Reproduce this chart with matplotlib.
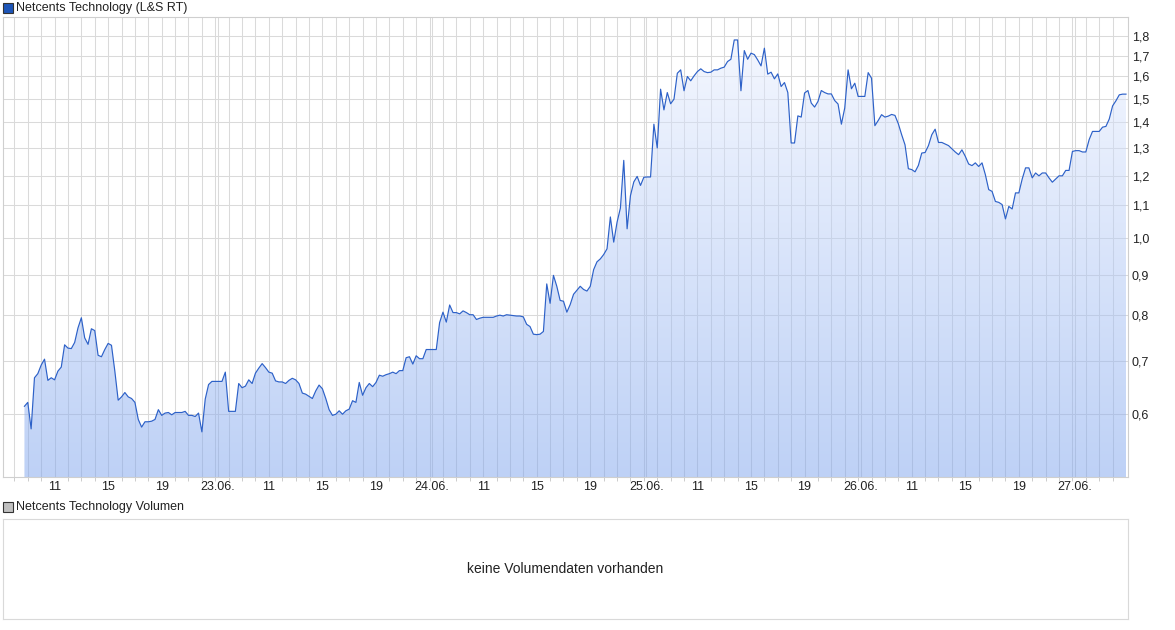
import numpy as np
import matplotlib
matplotlib.use("Agg")
import matplotlib.pyplot as plt
from matplotlib.patches import Polygon, Rectangle
from matplotlib.ticker import FixedLocator, FuncFormatter

plt.rcParams['font.family'] = ['Liberation Sans', 'DejaVu Sans']

# Kurs im 15-Minuten-Takt, erster Punkt 22.06. 08:45
# (Zeitachse ohne Nacht: je Handelstag 07:00 - 23:00 = 16 Stunden)
kurs = [
    0.614, 0.621, 0.575, 0.667, 0.675, 0.692, 0.704, 0.662, 0.667, 0.663,
    0.680, 0.688, 0.734, 0.727, 0.726, 0.739, 0.771, 0.794, 0.749, 0.735,
    0.769, 0.765, 0.712, 0.709, 0.724, 0.737, 0.733, 0.680, 0.625, 0.631,
    0.639, 0.631, 0.628, 0.621, 0.591, 0.578, 0.587, 0.587, 0.588, 0.591,
    0.608, 0.598, 0.602, 0.603, 0.599, 0.603, 0.603, 0.603, 0.605, 0.598,
    0.598, 0.596, 0.602, 0.570, 0.627, 0.654, 0.660, 0.660, 0.660, 0.660,
    0.678, 0.605, 0.605, 0.605, 0.656, 0.648, 0.651, 0.663, 0.656, 0.676,
    0.686, 0.695, 0.687, 0.678, 0.676, 0.661, 0.659, 0.659, 0.656, 0.662,
    0.666, 0.663, 0.656,
    0.638, 0.636, 0.632, 0.628, 0.642, 0.653, 0.646, 0.628, 0.608, 0.598,
    0.600, 0.606, 0.600, 0.606, 0.609, 0.624, 0.621, 0.658, 0.634, 0.648,
    0.656, 0.650, 0.658, 0.672, 0.670, 0.673, 0.675, 0.678, 0.675, 0.681,
    0.681, 0.707, 0.709, 0.694, 0.711, 0.705, 0.705, 0.724, 0.724, 0.724,
    0.724, 0.783, 0.807, 0.784, 0.824, 0.806, 0.806, 0.803, 0.810, 0.806,
    0.801, 0.801, 0.790, 0.793, 0.795, 0.795, 0.795, 0.795, 0.798, 0.800,
    0.798, 0.801, 0.800, 0.799, 0.798, 0.798, 0.796, 0.779, 0.774, 0.757,
    0.756, 0.757, 0.763, 0.876, 0.828, 0.898, 0.870, 0.835, 0.833, 0.807,
    0.825, 0.850, 0.860, 0.870,
    0.862, 0.858, 0.870, 0.913, 0.934, 0.942, 0.954, 0.970, 1.064, 0.989,
    1.048, 1.092, 1.254, 1.028, 1.132, 1.178, 1.197, 1.166, 1.194, 1.195,
    1.195, 1.393, 1.300, 1.542, 1.452, 1.527, 1.478, 1.498, 1.615, 1.631,
    1.535, 1.600, 1.580, 1.603, 1.623, 1.636, 1.623, 1.618, 1.620, 1.631,
    1.631, 1.639, 1.644, 1.671, 1.682, 1.779, 1.779, 1.535, 1.725, 1.682,
    1.712, 1.705, 1.679,
    1.650, 1.737, 1.611, 1.620, 1.589, 1.612, 1.554, 1.572, 1.527, 1.319,
    1.319, 1.427, 1.422, 1.525, 1.536, 1.481, 1.464, 1.488, 1.536, 1.527,
    1.521, 1.521, 1.492, 1.477, 1.393, 1.460, 1.631, 1.544, 1.569, 1.510,
    1.510, 1.510, 1.618, 1.592, 1.387, 1.408, 1.432, 1.422, 1.426, 1.433,
    1.429, 1.395,
    1.351, 1.312, 1.224, 1.221, 1.213, 1.236, 1.281, 1.283, 1.309, 1.351,
    1.373, 1.321, 1.321, 1.315, 1.309, 1.297, 1.285, 1.275, 1.293, 1.269,
    1.241, 1.235, 1.245, 1.232, 1.245, 1.203, 1.152, 1.146, 1.113, 1.110,
    1.103, 1.058, 1.097, 1.089, 1.141, 1.141, 1.188, 1.227, 1.227, 1.192,
    1.209, 1.199, 1.209, 1.209, 1.192, 1.177, 1.188, 1.199, 1.199, 1.218,
    1.218, 1.287, 1.290, 1.290, 1.285, 1.285, 1.332, 1.364, 1.364, 1.364,
    1.381, 1.384, 1.414, 1.469, 1.491, 1.517, 1.520, 1.520,
]

tage = ["22.06.", "23.06.", "24.06.", "25.06.", "26.06.", "27.06."]
stunden_labels = ["11", "15", "19"]
y_ticks = [0.6, 0.7, 0.8, 0.9, 1.0, 1.1, 1.2, 1.3, 1.4, 1.5, 1.6, 1.7, 1.8]

TAG_START = 7            # Handelsbeginn
TAG_LAENGE = 16          # Stunden pro Tag auf der Achse
ERSTER_PUNKT = 1.75      # 08:45 am ersten Tag
SCHRITT = 0.25           # 15 Minuten
X_MIN, X_MAX = 0.15, 84.15
Y_MIN, Y_MAX = 0.5, 1.9

W, H = 1175, 630


def rect_px(l, t, r, b):
    # Pixelkoordinaten (von oben) -> Figure-Anteile
    return [l / W, 1 - b / H, (r - l) / W, (b - t) / H]


def legende(fig, y, farbe, text):
    fig.patches.append(Rectangle((3 / W, 1 - (y + 5) / H), 10 / W, 10 / H,
                                 transform=fig.transFigure, facecolor=farbe,
                                 edgecolor='#333333', linewidth=0.8))
    fig.text(16.5 / W, 1 - y / H, text, fontsize=9, color='#222222',
             va='center', ha='left')


def kurs_chart(fig):
    ax = fig.add_axes(rect_px(3, 17.3, 1128, 477))
    ax.set_yscale('log')
    ax.set_xlim(X_MIN, X_MAX)
    ax.set_ylim(Y_MIN, Y_MAX)

    x = ERSTER_PUNKT + SCHRITT * np.arange(len(kurs))

    # Raster: jede Stunde eine Linie, Tageswechsel doppelt
    tag_linien = [d * TAG_LAENGE + 0.18 for d in range(1, len(tage))]
    stunden = [h for h in range(1, 84)]
    for h in stunden + tag_linien:
        ax.axvline(h, color='#dadada', lw=0.75, zorder=0.5)
    for v in y_ticks:
        ax.axhline(v, color='#dadada', lw=0.75, zorder=0.5)

    # Flaeche mit Verlauf
    oben = np.array([0.93, 0.95, 1.0])
    unten = np.array([0.49, 0.64, 0.93])
    g = np.linspace(0, 1, 256)[:, None, None]
    bild = oben * (1 - g) + unten * g
    im = ax.imshow(bild, extent=[0, 1, 0, 1], transform=ax.transAxes,
                   aspect='auto', alpha=0.5, zorder=1, interpolation='bilinear')
    ecken = [(x[0], Y_MIN)] + list(zip(x, kurs)) + [(x[-1], Y_MIN)]
    flaeche = Polygon(ecken, closed=True, facecolor='none', edgecolor='none',
                      transform=ax.transData)
    ax.add_patch(flaeche)
    im.set_clip_path(flaeche)

    ax.plot(x, kurs, color='#2d61c8', lw=0.85, zorder=3, solid_joinstyle='round')

    # x-Achse
    pos, lab = [], []
    for d in range(len(tage)):
        if d > 0:
            pos.append(d * TAG_LAENGE + 0.18)
            lab.append(tage[d])
        for s in stunden_labels:
            p = d * TAG_LAENGE + int(s) - TAG_START
            if p < 84:
                pos.append(p)
                lab.append(s)
    ax.set_xticks(pos)
    ax.set_xticklabels(lab)
    ax.xaxis.set_minor_locator(FixedLocator(stunden))
    ax.tick_params(axis='x', which='major', length=0, pad=2.6, labelsize=9,
                   labelcolor='#222222')
    ax.tick_params(axis='x', which='minor', length=3, width=0.7, color='#cccccc')

    # y-Achse rechts
    ax.yaxis.tick_right()
    ax.yaxis.set_major_locator(FixedLocator(y_ticks))
    ax.yaxis.set_minor_locator(FixedLocator([]))
    ax.yaxis.set_major_formatter(FuncFormatter(lambda v, p: f"{v:.1f}".replace('.', ',')))
    ax.tick_params(axis='y', length=0, pad=2.7, labelsize=9, labelcolor='#222222')

    for sp in ax.spines.values():
        sp.set_color('#cfcfcf')
        sp.set_linewidth(0.8)
        sp.set_zorder(4)
    return ax


def volumen_chart(fig):
    ax = fig.add_axes(rect_px(3, 519, 1128, 619))
    ax.set_xticks([])
    ax.set_yticks([])
    for sp in ax.spines.values():
        sp.set_color('#d9d9d9')
        sp.set_linewidth(0.8)
    ax.text(0.5, 0.5, "keine Volumendaten vorhanden", transform=ax.transAxes,
            ha='center', va='center', fontsize=10, color='#222222')
    return ax


def main():
    fig = plt.figure(figsize=(W / 100, H / 100), dpi=100)
    kurs_chart(fig)
    volumen_chart(fig)
    legende(fig, 7.7, '#1d55b8', "Netcents Technology (L&S RT)")
    legende(fig, 507, '#c0c0c0', "Netcents Technology Volumen")
    fig.savefig("out.png", dpi=100)


if __name__ == "__main__":
    main()
